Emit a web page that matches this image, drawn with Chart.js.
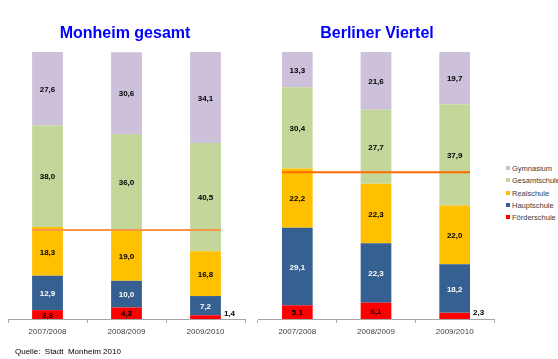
<!DOCTYPE html>
<html><head><meta charset="utf-8">
<script src="https://cdn.jsdelivr.net/npm/chart.js@4/dist/chart.umd.min.js"></script>
<style>
html,body{margin:0;padding:0;background:#fff;}
body{width:558px;height:359px;position:relative;overflow:hidden;font-family:"Liberation Sans",Arial,sans-serif;}
canvas{position:absolute;top:0;}
.title{position:absolute;color:#0000ff;font-weight:bold;font-size:16px;white-space:nowrap;transform:translateX(-50%);}
#legend{position:absolute;left:506px;top:163px;font-size:7.5px;color:#404040;}
#legend div{height:12.3px;line-height:12px;white-space:nowrap;}
#legend span{display:inline-block;width:4px;height:4px;margin-right:2px;vertical-align:1px;}
#src{position:absolute;left:15px;top:347px;font-size:8px;color:#000;white-space:nowrap;}
</style></head>
<body>
<canvas id="c1" width="250" height="359" style="left:0"></canvas>
<canvas id="c2" width="250" height="359" style="left:250px"></canvas>
<div class="title" style="left:125px;top:24px">Monheim gesamt</div>
<div class="title" style="left:377px;top:24px">Berliner Viertel</div>
<div id="legend"></div>
<div id="src">Quelle:&nbsp; Stadt&nbsp; Monheim 2010</div>
<script>
const years = ["2007/2008", "2008/2009", "2009/2010"];
const seriesNames = ["Förderschule", "Hauptschule", "Realschule", "Gesamtschule", "Gymnasium"];
const seriesColors = ["#ff0000", "#376092", "#ffc000", "#c4d79b", "#ccc0da"];
const labelColors = ["#000", "#fff", "#000", "#000", "#000"];

// Monheim gesamt
const monheimFoerder = [3.3, 4.3, 1.4];
const monheimHaupt = [12.9, 10.0, 7.2];
const monheimReal = [18.3, 19.0, 16.8];
const monheimGesamt = [38.0, 36.0, 40.5];
const monheimGym = [27.6, 30.6, 34.1];
const monheimLine = 33.3;

// Berliner Viertel
const berlinFoerder = [5.1, 6.1, 2.3];
const berlinHaupt = [29.1, 22.3, 18.2];
const berlinReal = [22.2, 22.3, 22.0];
const berlinGesamt = [30.4, 27.7, 37.9];
const berlinGym = [13.3, 21.6, 19.7];
const berlinLine = 55.0;

const fmt = v => v.toFixed(1).replace('.', ',');

const labelPlugin = {
  id: 'vals',
  afterDatasetsDraw(chart) {
    const ctx = chart.ctx;
    ctx.save();
    ctx.font = 'bold 8px "Liberation Sans", Arial, sans-serif';
    chart.data.datasets.forEach((ds, di) => {
      const meta = chart.getDatasetMeta(di);
      meta.data.forEach((bar, i) => {
        const v = ds.data[i];
        const cy = (bar.y + bar.base) / 2;
        if (v < 3) {
          ctx.fillStyle = '#000';
          ctx.textAlign = 'left';
          ctx.textBaseline = 'middle';
          ctx.fillText(fmt(v), bar.x + bar.width / 2 + 3, cy - 3);
        } else {
          ctx.fillStyle = labelColors[di];
          ctx.textAlign = 'center';
          ctx.textBaseline = 'middle';
          ctx.fillText(fmt(v), bar.x, cy + 1);
        }
      });
    });
    ctx.restore();
  }
};

const linePlugin = {
  id: 'refline',
  afterDatasetsDraw(chart, args, opts) {
    const meta = chart.getDatasetMeta(0);
    const first = meta.data[0], last = meta.data[meta.data.length - 1];
    const y = chart.scales.y.getPixelForValue(opts.value);
    const ctx = chart.ctx;
    ctx.save();
    ctx.strokeStyle = opts.color;
    ctx.lineWidth = 2;
    ctx.beginPath();
    ctx.moveTo(first.x - first.width / 2, y);
    ctx.lineTo(last.x + last.width / 2, y);
    ctx.stroke();
    ctx.restore();
  }
};

function makeChart(id, arrays, lineVal, lineColor, padLeft, padRight) {
  return new Chart(document.getElementById(id), {
    type: 'bar',
    data: {
      labels: years,
      datasets: arrays.map((a, i) => ({
        label: seriesNames[i],
        data: a,
        backgroundColor: seriesColors[i],
        borderWidth: 0,
        barPercentage: 0.39,
        categoryPercentage: 1
      }))
    },
    options: {
      responsive: false,
      animation: false,
      events: [],
      layout: { padding: { left: padLeft, right: padRight, top: 52, bottom: 0 } },
      plugins: {
        legend: { display: false },
        tooltip: { enabled: false },
        refline: { value: lineVal, color: lineColor }
      },
      scales: {
        x: {
          stacked: true,
          afterFit: s => { s.height = 40; },
          border: { display: true, color: '#a6a6a6', width: 1 },
          grid: { offset: true, drawOnChartArea: false, drawTicks: true, tickLength: 4, color: '#a6a6a6' },
          ticks: { color: '#404040', font: { size: 8, family: '"Liberation Sans", Arial, sans-serif' }, padding: 4, maxRotation: 0 }
        },
        y: {
          stacked: true, display: false, min: 0, max: 100
        }
      }
    },
    plugins: [labelPlugin, linePlugin]
  });
}

makeChart('c1', [monheimFoerder, monheimHaupt, monheimReal, monheimGesamt, monheimGym], monheimLine, '#f79646', 8, 5);
makeChart('c2', [berlinFoerder, berlinHaupt, berlinReal, berlinGesamt, berlinGym], berlinLine, '#ff6a00', 8, 6);

const lg = document.getElementById('legend');
for (let i = seriesNames.length - 1; i >= 0; i--) {
  const d = document.createElement('div');
  d.innerHTML = '<span style="background:' + seriesColors[i] + '"></span>' + seriesNames[i];
  lg.appendChild(d);
}
</script>
</body></html>
